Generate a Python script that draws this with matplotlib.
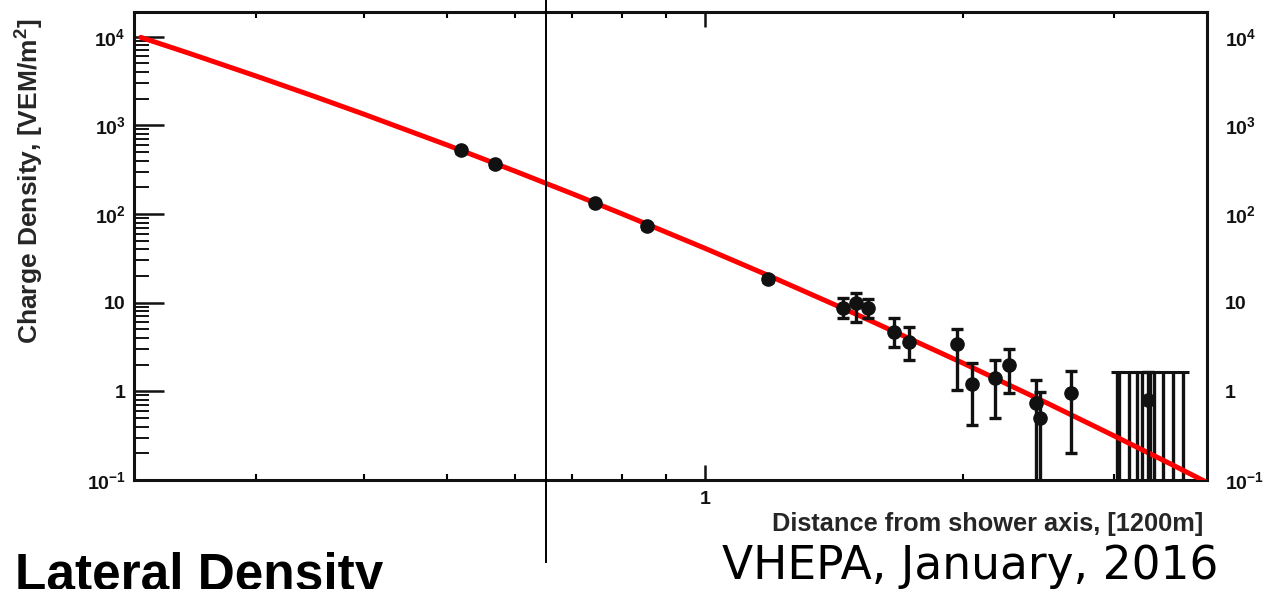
import matplotlib
matplotlib.use("Agg")
import matplotlib.pyplot as plt
from matplotlib.ticker import FixedLocator, FixedFormatter, NullFormatter, LogLocator

plt.rcParams['font.family'] = ['Liberation Sans', 'DejaVu Sans']
plt.rcParams['mathtext.fontset'] = 'custom'
plt.rcParams['mathtext.rm'] = 'Liberation Sans:bold'
plt.rcParams['mathtext.bf'] = 'Liberation Sans:bold'
plt.rcParams['mathtext.it'] = 'Liberation Sans:bold'
plt.rcParams['mathtext.default'] = 'bf'

# Station signals (distance in units of 1200 m, density in VEM/m^2)
dist = [0.519, 0.569, 0.744, 0.856, 1.184, 1.449, 1.50, 1.55, 1.66, 1.73,
        1.97, 2.05, 2.18, 2.26, 2.43, 2.46, 2.67, 3.29]
dens = [525, 365, 133, 73, 18.5, 8.7, 9.9, 8.7, 4.67, 3.6,
        3.4, 1.21, 1.41, 1.98, 0.74, 0.50, 0.96, 0.80]
dens_hi = [560, 390, 142, 78, 20.0, 11.3, 12.8, 11.0, 6.7, 5.3,
           5.0, 2.08, 2.25, 3.0, 1.34, 0.98, 1.69, 1.65]
dens_lo = [492, 342, 125, 68, 17.0, 6.7, 6.0, 6.7, 3.16, 2.25,
           1.03, 0.42, 0.50, 0.96, 0.01, 0.01, 0.20, 0.01]

# Silent stations: upper limits only
zero_dist = [3.02, 3.04, 3.12, 3.19, 3.23, 3.30, 3.34, 3.42, 3.51, 3.61]
zero_upper = [1.65] * len(zero_dist)

# Lateral distribution function fit
fit_dist = [0.22, 0.25, 0.30, 0.35, 0.40, 0.50, 0.60, 0.70, 0.80, 1.0,
            1.2, 1.5, 2.0, 2.5, 3.0, 3.5, 3.85]
fit_dens = [9830, 6540, 3590, 2133, 1341, 603, 306, 170, 100.8, 41.1,
            19.3, 7.44, 2.08, 0.746, 0.315, 0.150, 0.0939]

# Shower core reference distance
core_dist = 0.652

yticks = [0.1, 1, 10, 100, 1000, 10000]
ytick_labels = [r'$10^{-1}$', '1', '10', r'$10^{2}$', r'$10^{3}$', r'$10^{4}$']
xticks = [1]
xtick_labels = ['1']
xminor = [0.3, 0.4, 0.5, 0.6, 0.7, 0.8, 0.9, 2, 3]

W, H = 1268, 589
fig = plt.figure(figsize=(W / 100, H / 100), dpi=100)
ax = fig.add_axes([134 / W, 1 - 480 / H, (1207 - 134) / W, (480 - 12) / H])
ax.set_xscale('log')
ax.set_yscale('log')
ax.set_xlim(0.216, 3.85)
ax.set_ylim(0.1, 1.9e4)

ink = '#111111'

# fit curve
ax.plot(fit_dist, fit_dens, color='#ff0000', lw=3.6, zorder=3,
        solid_capstyle='round')

# measured points with asymmetric errors
yerr = [[d - lo for d, lo in zip(dens, dens_lo)],
        [hi - d for d, hi in zip(dens, dens_hi)]]
ax.errorbar(dist, dens, yerr=yerr, fmt='o', color=ink, ms=9.5, mec=ink,
            ecolor=ink, elinewidth=2.4, capsize=4, capthick=2.4, zorder=4)

# upper limits of silent stations
lim_err = [[u - 0.01 for u in zero_upper], [0] * len(zero_upper)]
ax.errorbar(zero_dist, zero_upper, yerr=lim_err, fmt='none', ecolor=ink,
            elinewidth=2.4, capsize=4, capthick=2.2, zorder=2)

# core distance marker extending beyond the frame
ax.axvline(core_dist, ymin=-0.175, ymax=1.03, color='black', lw=1.4,
           clip_on=False, zorder=5)

for s in ax.spines.values():
    s.set_linewidth(2.2)
    s.set_color(ink)

ax.xaxis.set_major_locator(FixedLocator(xticks))
ax.xaxis.set_major_formatter(FixedFormatter(xtick_labels))
ax.xaxis.set_minor_locator(FixedLocator(xminor))
ax.xaxis.set_minor_formatter(NullFormatter())
ax.yaxis.set_major_locator(FixedLocator(yticks))
ax.yaxis.set_major_formatter(FixedFormatter(ytick_labels))
ax.yaxis.set_minor_locator(LogLocator(base=10, subs=range(2, 10), numticks=20))
ax.yaxis.set_minor_formatter(NullFormatter())

ax.tick_params(axis='x', which='major', direction='in', length=11, width=1.8,
               top=True, bottom=True, pad=8, labelsize=14, colors=ink)
ax.tick_params(axis='x', which='minor', direction='in', length=4.5, width=1.5,
               top=True, bottom=True)
ax.tick_params(axis='y', which='major', direction='in', length=21.6, width=1.8,
               left=True, right=True, labelleft=True, labelright=False,
               pad=6, labelsize=14, colors=ink)
ax.tick_params(axis='y', which='minor', direction='in', length=10.8, width=1.4,
               left=True, right=True, colors=ink)

# right-hand labels on a twin axis
ax2 = ax.twinx()
ax2.set_yscale('log')
ax2.set_ylim(ax.get_ylim())
ax2.yaxis.set_major_locator(FixedLocator(yticks))
ax2.yaxis.set_major_formatter(FixedFormatter(ytick_labels))
ax2.yaxis.set_minor_locator(FixedLocator([]))
ax2.tick_params(axis='y', which='major', length=0, pad=13, labelsize=14,
                colors=ink)
for s in ax2.spines.values():
    s.set_visible(False)

for lab in ax.get_yticklabels() + ax2.get_yticklabels() + ax.get_xticklabels():
    lab.set_fontweight('bold')

fig.text(30 / W, 1 - 181 / H, 'Charge Density, [VEM/m$^2$]', rotation=90,
         ha='center', va='center', fontsize=19, fontweight='bold', color='#262626')
fig.text(1203 / W, 1 - 524 / H, 'Distance from shower axis, [1200m]',
         ha='right', va='center', fontsize=18.3, fontweight='bold', color='#262626')
fig.text(15 / W, -1 / H, 'Lateral Density', ha='left', va='baseline',
         fontsize=37, fontweight='bold', color='black')
fig.text(722 / W, 1 - 579 / H, 'VHEPA, January, 2016', ha='left',
         va='baseline', fontsize=32.8, family='DejaVu Sans', color='black')

fig.savefig('out.png', dpi=100)
